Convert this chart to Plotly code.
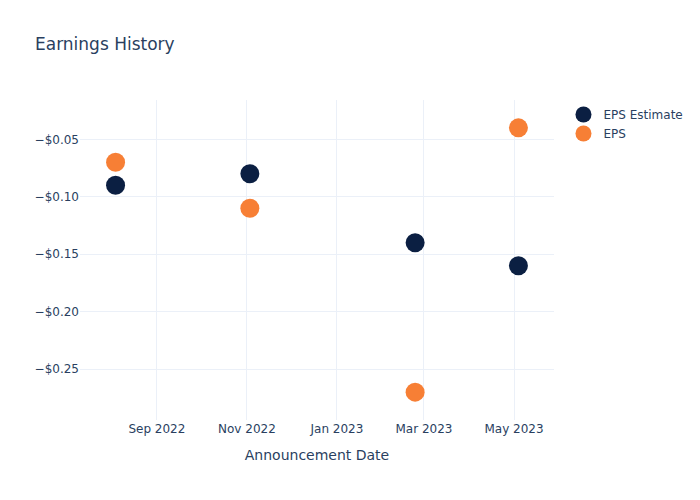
import plotly.graph_objects as go

dates = ["2022-08-04", "2022-11-03", "2023-02-23", "2023-05-04"]
eps_estimate = [-0.09, -0.08, -0.14, -0.16]
eps_actual = [-0.07, -0.11, -0.27, -0.04]

fig = go.Figure()
fig.add_trace(go.Scatter(x=dates, y=eps_estimate, mode="markers", name="EPS Estimate",
                         marker=dict(color="#0b1f42", size=19)))
fig.add_trace(go.Scatter(x=dates, y=eps_actual, mode="markers", name="EPS",
                         marker=dict(color="#f77f35", size=19)))
fig.update_layout(
    template="plotly_white",
    font=dict(family="DejaVu Sans"),
    title=dict(text="Earnings History"),
    width=700, height=500,
    xaxis=dict(title=dict(text="Announcement Date")),
    yaxis=dict(tickformat="$.2f"),
)
fig.write_html("out.html")
